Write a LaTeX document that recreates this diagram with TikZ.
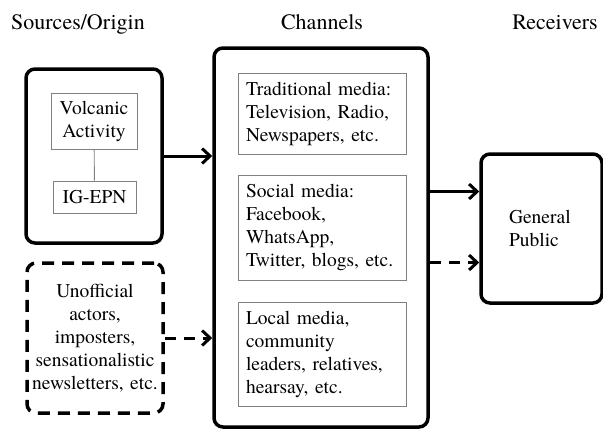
\documentclass[tikz,border=0pt]{standalone}
\usepackage{fontspec}
\setmainfont{texgyretermes}[Extension=.otf, UprightFont=*-regular, BoldFont=*-bold, ItalicFont=*-italic, BoldItalicFont=*-bolditalic]
\usetikzlibrary{arrows.meta,positioning}
\definecolor{boxgray}{RGB}{128,128,128}
\newcommand{\boxfont}{\rmfamily\fontsize{19.5}{23}\selectfont}
\tikzstyle{heading} = [font=\rmfamily\fontsize{22}{26}\selectfont, text width=160pt, align=center, anchor=base]
\tikzstyle{outerbox} = [draw, line width=3.5pt, rounded corners=9pt, font=\boxfont]
\tikzstyle{mediabox} = [draw=boxgray, line width=0.9pt, minimum width=168pt, text width=152pt, inner xsep=8pt, align=left, font=\boxfont]
\tikzstyle{srcbox} = [draw=boxgray, line width=0.9pt, inner xsep=2pt, align=center, font=\boxfont]
\tikzstyle{flow} = [line width=3pt, -{Straight Barb[length=8pt,width=15pt,line width=3pt]}]

\begin{document}
\begin{tikzpicture}[x=1pt, y=-1pt]
\useasboundingbox (0,0) rectangle (603,429);
% Column headings
\node[heading] (hsrc) at (78,29) {Sources/Origin};
\node[heading] (hchan) at (322,29) {Channels};
\node[heading] (hrecv) at (555,29) {Receivers};

% Sources
\node[outerbox, minimum width=136pt, minimum height=174pt] (src) at (94,156) {};
\node[srcbox, text width=82pt, minimum height=56pt] (volc) at (94,121) {Volcanic\\Activity};
\node[srcbox, text width=79pt, minimum height=32pt] (igepn) at (94.5,197) {IG-EPN};
\draw[boxgray, line width=0.9pt] (volc) -- (igepn);
\node[outerbox, dash pattern=on 12pt off 8pt, text width=130pt, minimum height=150pt, inner xsep=3pt, align=center] (unoff) at (95,338) {Unofficial\\actors,\\imposters,\\sensationalistic\\newsletters, etc.};

% Channels
\node[outerbox, minimum width=214pt, minimum height=379pt] (chan) at (321,237.5) {};
\node[mediabox, minimum height=81pt] (trad) at (322,113.5) {Traditional media:\\Television, Radio,\\Newspapers, etc.};
\node[mediabox, minimum height=105pt] (social) at (322,227.5) {Social media:\\Facebook,\\WhatsApp,\\Twitter, blogs, etc.};
\node[mediabox, minimum height=104pt] (local) at (322,354) {Local media,\\community\\leaders, relatives,\\hearsay, etc.};

% Receivers
\node[outerbox, text width=65pt, minimum height=149pt, inner xsep=28pt, align=left] (pub) at (541.5,228.5) {General\\Public};

% Flows
\draw[flow] (src.east) -- (src.east -| chan.west);
\draw[flow, dash pattern=on 11pt off 8pt] (unoff.east) -- (unoff.east -| chan.west);
\draw[flow] ([yshift=37pt]pub.west -| chan.east) -- ([yshift=37pt]pub.west);
\draw[flow, dash pattern=on 11pt off 8pt] ([yshift=-34pt]pub.west -| chan.east) -- ([yshift=-34pt]pub.west);
\end{tikzpicture}
\end{document}
